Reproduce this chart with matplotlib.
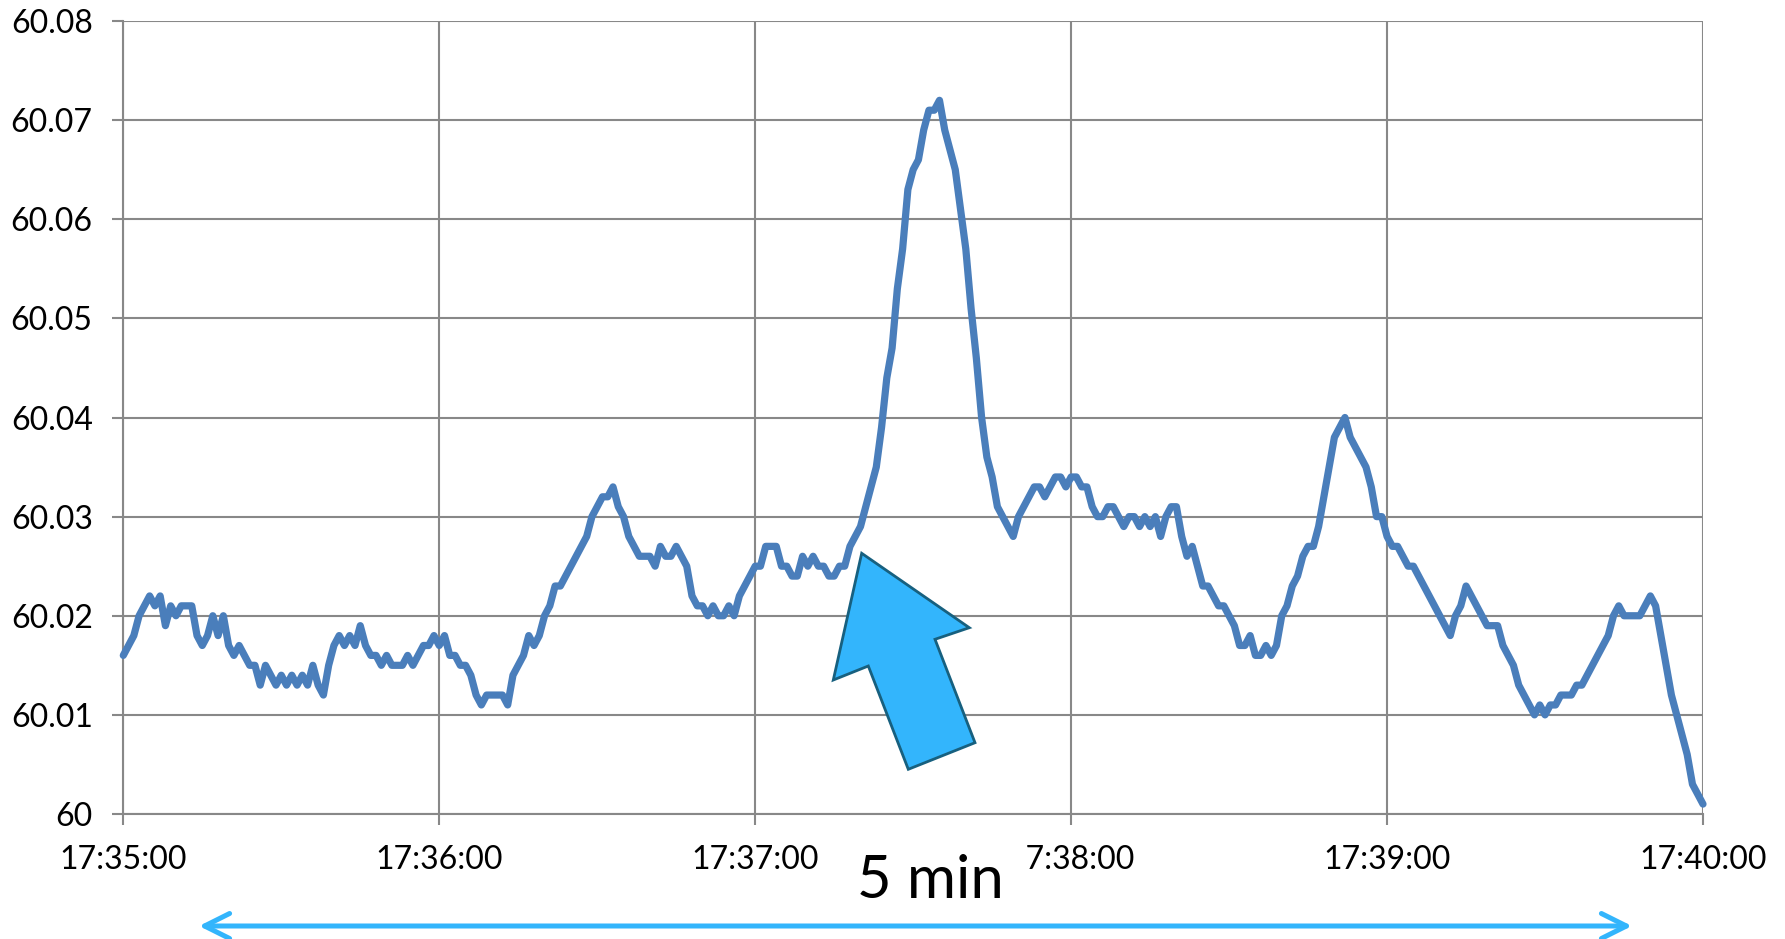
import numpy as np
import matplotlib.pyplot as plt
import matplotlib.patches as patches

plt.rcParams['font.family'] = ['Lato', 'DejaVu Sans']

# grid frequency, one sample per second from 17:35:00, in mHz above 60 Hz
freq_mhz = [
    16, 17, 18, 20, 21, 22, 21, 22, 19, 21, 20, 21, 21, 21, 18, 17, 18, 20, 18, 20,
    17, 16, 17, 16, 15, 15, 13, 15, 14, 13, 14, 13, 14, 13, 14, 13, 15, 13, 12, 15,
    17, 18, 17, 18, 17, 19, 17, 16, 16, 15, 16, 15, 15, 15, 16, 15, 16, 17, 17, 18,
    17, 18, 16, 16, 15, 15, 14, 12, 11, 12, 12, 12, 12, 11, 14, 15, 16, 18, 17, 18,
    20, 21, 23, 23, 24, 25, 26, 27, 28, 30, 31, 32, 32, 33, 31, 30, 28, 27, 26, 26,
    26, 25, 27, 26, 26, 27, 26, 25, 22, 21, 21, 20, 21, 20, 20, 21, 20, 22, 23, 24,
    25, 25, 27, 27, 27, 25, 25, 24, 24, 26, 25, 26, 25, 25, 24, 24, 25, 25, 27, 28,
    29, 31, 33, 35, 39, 44, 47, 53, 57, 63, 65, 66, 69, 71, 71, 72, 69, 67, 65, 61,
    57, 51, 46, 40, 36, 34, 31, 30, 29, 28, 30, 31, 32, 33, 33, 32, 33, 34, 34, 33,
    34, 34, 33, 33, 31, 30, 30, 31, 31, 30, 29, 30, 30, 29, 30, 29, 30, 28, 30, 31,
    31, 28, 26, 27, 25, 23, 23, 22, 21, 21, 20, 19, 17, 17, 18, 16, 16, 17, 16, 17,
    20, 21, 23, 24, 26, 27, 27, 29, 32, 35, 38, 39, 40, 38, 37, 36, 35, 33, 30, 30,
    28, 27, 27, 26, 25, 25, 24, 23, 22, 21, 20, 19, 18, 20, 21, 23, 22, 21, 20, 19,
    19, 19, 17, 16, 15, 13, 12, 11, 10, 11, 10, 11, 11, 12, 12, 12, 13, 13, 14, 15,
    16, 17, 18, 20, 21, 20, 20, 20, 20, 21, 22, 21, 18, 15, 12, 10, 8, 6, 3, 2, 1,
]

x_ticks_sec = [0, 60, 120, 180, 240, 300]
x_tick_labels = ['17:35:00', '17:36:00', '17:37:00', '17:38:00', '17:39:00', '17:40:00']
y_ticks = [60.00, 60.01, 60.02, 60.03, 60.04, 60.05, 60.06, 60.07, 60.08]
y_tick_labels = ['60', '60.01', '60.02', '60.03', '60.04', '60.05', '60.06', '60.07', '60.08']

W, H = 1785, 939
fig = plt.figure(figsize=(W / 100, H / 100), dpi=100)
ax = fig.add_axes([123.3 / W, 1 - 814 / H, (1703 - 123.3) / W, (814 - 21) / H])

freq = 60 + np.array(freq_mhz) / 1000.0
t = np.arange(len(freq))
ax.plot(t, freq, color='#4A7EBB', lw=5.2, solid_joinstyle='round',
        solid_capstyle='round', clip_on=False, zorder=3)

ax.set_xlim(0, 300)
ax.set_ylim(60.0, 60.08)
ax.set_xticks(x_ticks_sec)
ax.set_xticklabels(x_tick_labels)
ax.set_yticks(y_ticks)
ax.set_yticklabels(y_tick_labels)

grid_col = '#888888'
ax.grid(True, color=grid_col, lw=1.5)
ax.set_axisbelow(True)
for s in ['top', 'right']:
    ax.spines[s].set_visible(False)
for s in ['left', 'bottom']:
    ax.spines[s].set_color(grid_col)
    ax.spines[s].set_linewidth(1.5)
ax.tick_params(axis='both', direction='out', length=8, width=1.5, color=grid_col,
               labelsize=23, pad=14, labelcolor='black')

# big block arrow pointing at the start of the rise (pixel positions)
arrow_px = [(861.7, 553.3), (969.3, 627.7), (935, 639.3), (975, 742.7),
            (908.3, 769.3), (868.3, 666), (833.3, 680)]
arrow_fig = [(px / W, 1 - py / H) for px, py in arrow_px]
fig.add_artist(patches.Polygon(arrow_fig, closed=True, facecolor='#33B5FC',
                               edgecolor='#17607F', lw=2, transform=fig.transFigure,
                               zorder=5))

# 5 minute span arrow below the axis
y_arr = 1 - 926 / H
ax.annotate('', xy=(1632 / W, y_arr), xytext=(199 / W, y_arr),
            xycoords='figure fraction', textcoords='figure fraction',
            arrowprops=dict(arrowstyle='<->,head_length=0.6,head_width=0.3',
                            color='#33B5FC', lw=3.6, mutation_scale=30,
                            shrinkA=0, shrinkB=0, capstyle='round'),
            annotation_clip=False)

fig.add_artist(patches.Rectangle((838 / W, 1 - 923 / H), (1027 - 838) / W, (923 - 830) / H,
                                 facecolor='white', edgecolor='none',
                                 transform=fig.transFigure, zorder=6))
fig.text(930 / W, 1 - 898 / H, '5 min', fontsize=43, ha='center', va='baseline', zorder=7)

fig.savefig('out.png', dpi=100)
